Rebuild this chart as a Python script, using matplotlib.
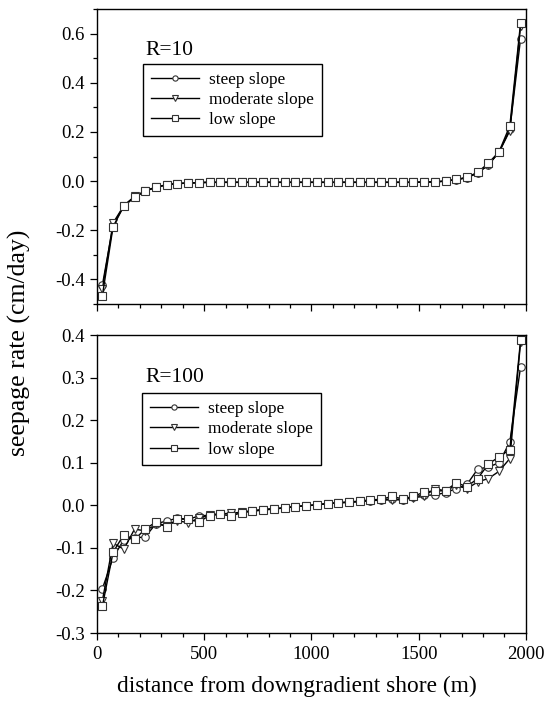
import matplotlib
matplotlib.use("Agg")
import matplotlib.pyplot as plt
from matplotlib.ticker import MultipleLocator

plt.rcParams["font.family"] = ["Liberation Serif", "DejaVu Serif"]

# distance from the downgradient shore (m), cell centres every 50 m
distance = [25, 75, 125, 175, 225, 275, 325, 375, 425, 475,
            525, 575, 625, 675, 725, 775, 825, 875, 925, 975,
            1025, 1075, 1125, 1175, 1225, 1275, 1325, 1375, 1425, 1475,
            1525, 1575, 1625, 1675, 1725, 1775, 1825, 1875, 1925, 1975]

# seepage rate (cm/day), R = 10
r10_steep = [-0.423, -0.180, -0.100, -0.064, -0.041, -0.024, -0.015, -0.010, -0.008, -0.006,
             -0.005, -0.005, -0.005, -0.005, -0.005, -0.005, -0.005, -0.005, -0.005, -0.005,
             -0.005, -0.005, -0.005, -0.005, -0.005, -0.005, -0.005, -0.005, -0.005, -0.005,
             -0.004, -0.003, 0.000, 0.006, 0.014, 0.033, 0.066, 0.118, 0.210, 0.580]
r10_moderate = [-0.440, -0.170, -0.100, -0.062, -0.040, -0.024, -0.015, -0.010, -0.008, -0.006,
                -0.005, -0.005, -0.005, -0.005, -0.005, -0.005, -0.005, -0.005, -0.005, -0.005,
                -0.005, -0.005, -0.005, -0.005, -0.005, -0.005, -0.005, -0.005, -0.005, -0.005,
                -0.004, -0.003, 0.000, 0.006, 0.014, 0.033, 0.066, 0.118, 0.205, 0.630]
r10_low = [-0.466, -0.185, -0.102, -0.066, -0.041, -0.025, -0.015, -0.010, -0.008, -0.006,
           -0.005, -0.005, -0.005, -0.005, -0.005, -0.005, -0.005, -0.005, -0.005, -0.005,
           -0.005, -0.005, -0.005, -0.005, -0.005, -0.005, -0.005, -0.005, -0.005, -0.005,
           -0.004, -0.003, 0.000, 0.007, 0.015, 0.036, 0.073, 0.120, 0.225, 0.643]

# seepage rate (cm/day), R = 100
r100_steep = [-0.196, -0.123, -0.081, -0.077, -0.074, -0.043, -0.037, -0.030, -0.033, -0.025,
              -0.023, -0.020, -0.019, -0.016, -0.013, -0.010, -0.008, -0.006, -0.003, -0.001,
              0.001, 0.004, 0.006, 0.007, 0.009, 0.011, 0.013, 0.015, 0.013, 0.020,
              0.024, 0.024, 0.030, 0.039, 0.049, 0.085, 0.090, 0.100, 0.149, 0.325]
r100_moderate = [-0.224, -0.089, -0.103, -0.056, -0.060, -0.045, -0.048, -0.036, -0.041, -0.030,
                 -0.023, -0.020, -0.019, -0.016, -0.013, -0.010, -0.008, -0.006, -0.003, -0.001,
                 0.001, 0.004, 0.006, 0.007, 0.009, 0.011, 0.012, 0.013, 0.013, 0.018,
                 0.021, 0.039, 0.034, 0.047, 0.039, 0.055, 0.063, 0.080, 0.110, 0.383]
r100_low = [-0.237, -0.110, -0.069, -0.080, -0.056, -0.039, -0.050, -0.032, -0.033, -0.039,
            -0.024, -0.021, -0.025, -0.017, -0.014, -0.011, -0.009, -0.006, -0.003, -0.001,
            0.001, 0.004, 0.006, 0.008, 0.010, 0.013, 0.014, 0.021, 0.015, 0.021,
            0.031, 0.034, 0.034, 0.053, 0.044, 0.063, 0.097, 0.114, 0.131, 0.388]

series_labels = ["steep slope", "moderate slope", "low slope"]
series_markers = ["o", "v", "s"]

fig = plt.figure(figsize=(5.45, 7.01), dpi=100)
ax_top = fig.add_axes([0.178, 0.5663, 0.787, 0.4208])
ax_bot = fig.add_axes([0.178, 0.097, 0.787, 0.425])


def draw_panel(ax, values, ylim, ymajor, yminor, title, title_y, legend_anchor):
    for vals, lab, mk in zip(values, series_labels, series_markers):
        ax.plot(distance, vals, color="black", lw=1.0, marker=mk, ms=5.4,
                mfc="white", mec="#333333", mew=0.8, label=lab)
    ax.set_xlim(0, 2000)
    ax.set_ylim(*ylim)
    ax.xaxis.set_major_locator(MultipleLocator(500))
    ax.xaxis.set_minor_locator(MultipleLocator(100))
    ax.yaxis.set_major_locator(MultipleLocator(ymajor))
    if yminor:
        ax.yaxis.set_minor_locator(MultipleLocator(yminor))
    ax.yaxis.set_major_formatter(matplotlib.ticker.FormatStrFormatter("%.1f"))
    ax.tick_params(which="both", direction="out", top=False, right=False,
                   labelsize=13.5, width=0.9, pad=4)
    ax.tick_params(which="major", length=5)
    ax.tick_params(which="minor", length=3)
    for sp in ax.spines.values():
        sp.set_linewidth(1.0)
    ax.text(0.112, title_y, title, transform=ax.transAxes, fontsize=15.5,
            va="baseline", ha="left")
    leg = ax.legend(loc="upper left", bbox_to_anchor=legend_anchor, borderaxespad=0,
                    fancybox=False, fontsize=12.4, handlelength=2.8, handletextpad=0.6,
                    labelspacing=0.25, borderpad=0.45, framealpha=1, markerscale=0.7)
    leg.get_frame().set_edgecolor("black")
    leg.get_frame().set_linewidth(1.0)


draw_panel(ax_top, [r10_steep, r10_moderate, r10_low], (-0.5, 0.7), 0.2, 0.1,
           "R=10", 0.844, (0.107, 0.814))
ax_top.tick_params(axis="x", labelbottom=False)

draw_panel(ax_bot, [r100_steep, r100_moderate, r100_low], (-0.3, 0.4), 0.1, None,
           "R=100", 0.842, (0.105, 0.805))

fig.text(0.036, 0.511, "seepage rate (cm/day)", rotation=90, ha="center",
         va="center", fontsize=18.5)
fig.text(0.545, 0.021, "distance from downgradient shore (m)", ha="center",
         va="center", fontsize=16.8)

fig.savefig("out.png", dpi=100)
